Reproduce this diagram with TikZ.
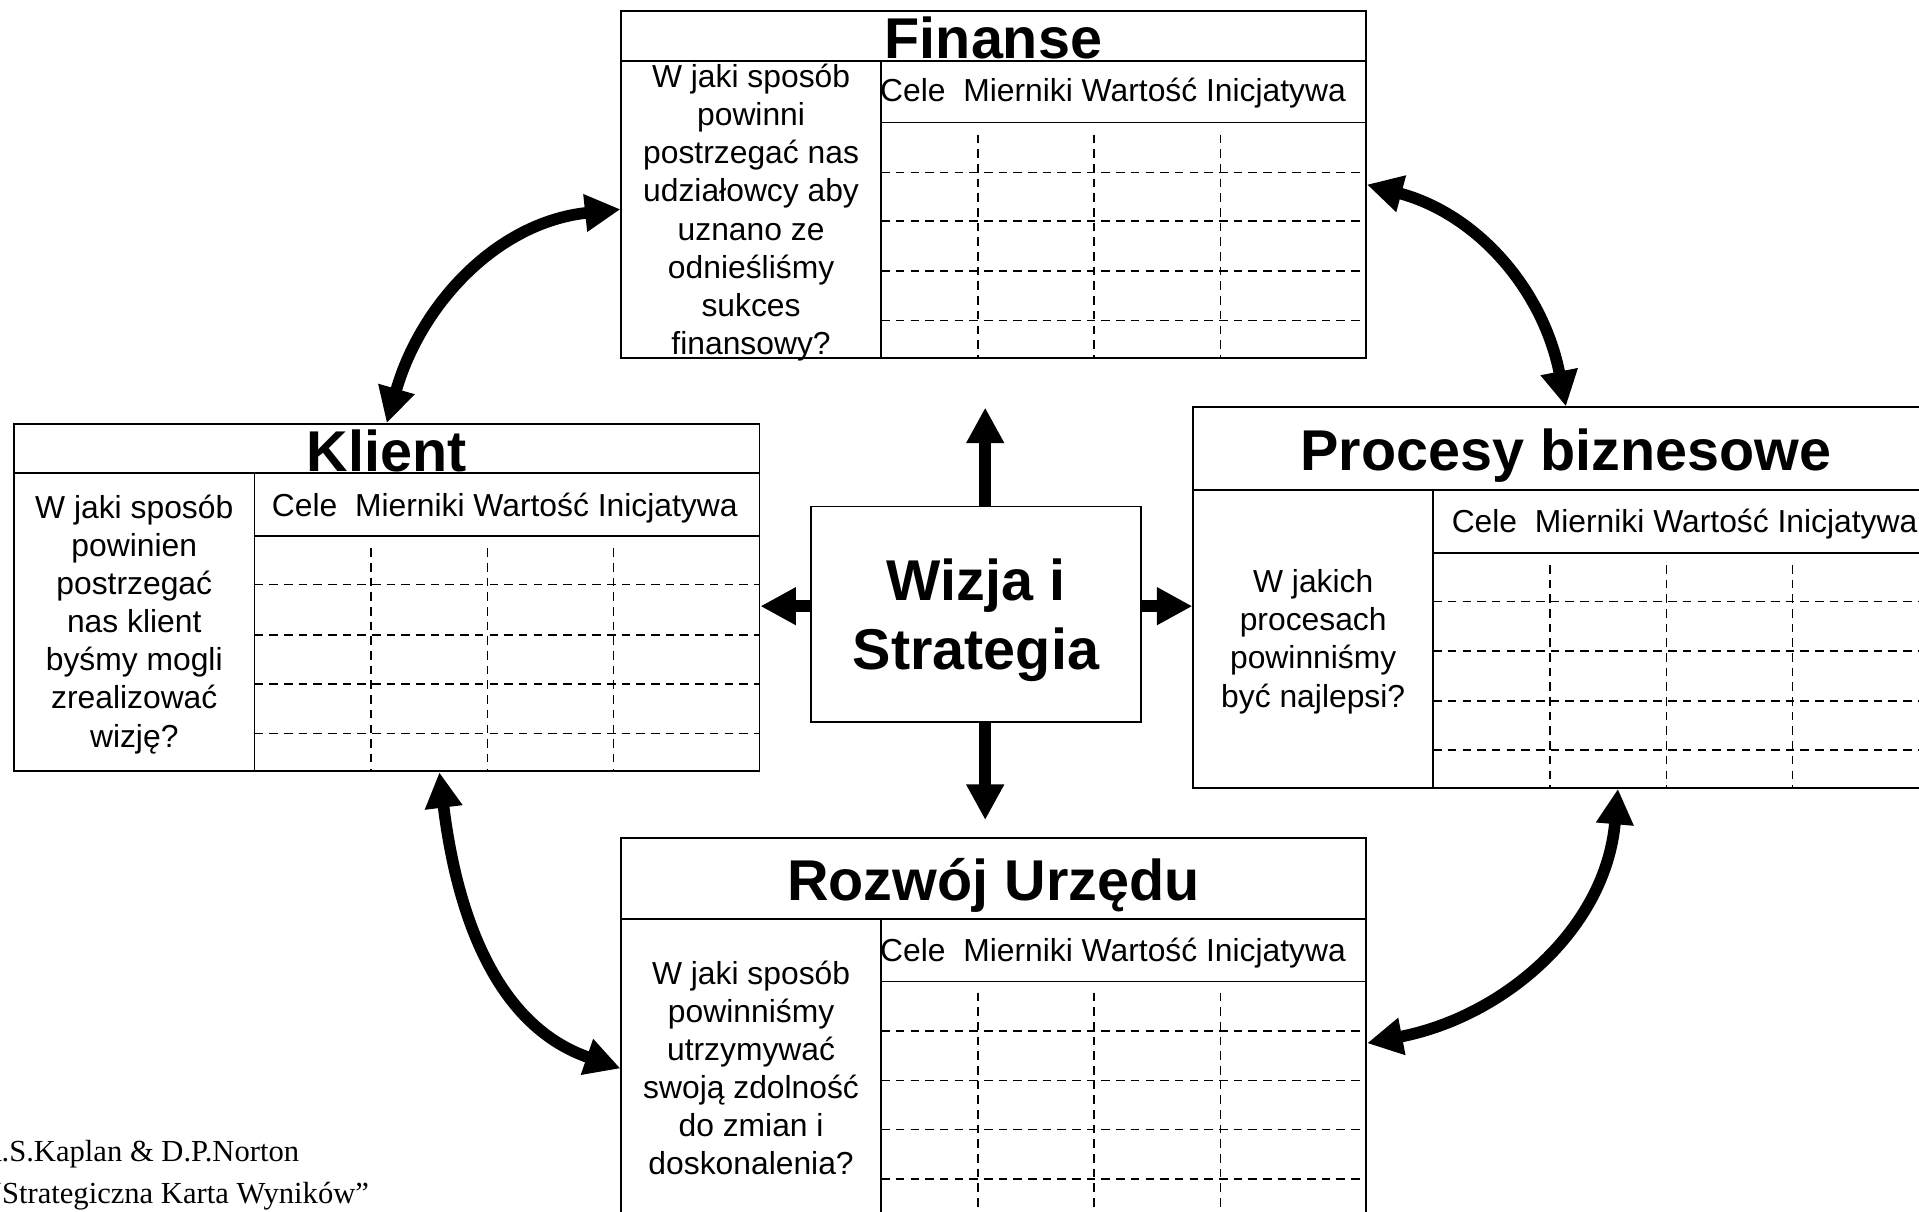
\documentclass[tikz,border=0pt]{standalone}
\usepackage{fontspec}
\setmainfont{Liberation Sans}
\newfontfamily\szeryf{Liberation Serif}
\usepackage{tikz}
\usetikzlibrary{arrows.meta,calc}
\tikzset{
	ramka/.style={draw,line width=1.4pt,inner sep=0pt},
	linia/.style={line width=1.4pt},
	kreski/.style={line width=1.1pt,dash pattern=on 7pt off 5pt},
	tytul/.style={anchor=base,inner sep=0pt,font=\fontsize{47}{56}\selectfont\bfseries},
	naglowek/.style={anchor=base west,inner sep=0pt,font=\fontsize{26}{31.5}\selectfont},
	pytanie/.style={align=center,inner sep=0pt,font=\fontsize{26}{31.2}\selectfont},
	strzalka/.style={line width=9.5pt,>={Triangle[width=29pt,length=29pt]}}
}

\begin{document}
\begin{tikzpicture}[x=1pt,y=1pt]
	\useasboundingbox (0,0) rectangle (1568,-990);
	\clip (0,0) rectangle (1568,-990);

	%Ramki perspektyw
	\node[ramka,minimum width=609,minimum height=283.5] (fin) at (811.7,-150.8) {};
	\node[ramka,minimum width=609.3,minimum height=283.6] (kli) at (316,-488.2) {};
	\node[ramka,minimum width=609,minimum height=310.8] (pro) at (1279.5,-488.2) {};
	\node[ramka,minimum width=609,minimum height=330] (roz) at (811.7,-849.9) {};
	\node[ramka,minimum width=269.7,minimum height=175.7] (wiz) at (797.5,-501.8) {};

	%Finanse
	\draw[linia] (507.2,-49.8) -- (1116.2,-49.8);
	\draw[linia] (720,-49.8) -- (720,-292.5);
	\draw[linia] (720,-100) -- (1116.2,-100);
	\foreach \y in {141,180.6,221.4,262} \draw[kreski] (720,-\y) -- (1116.2,-\y);
	\foreach \x in {799,894,997} \draw[kreski] (\x,-110) -- (\x,-292.5);
	\node[tytul] (finT) at (811.7,-47.6) {Finanse};
	\node[naglowek] (finN) at (719,-83) {Cele~ Mierniki Wartość Inicjatywa};
	\node[pytanie] (finP) at (613.7,-173.7) {W jaki sposób\\powinni\\postrzegać nas\\udziałowcy aby\\uznano ze\\odnieśliśmy\\sukces\\finansowy?};

	%Klient
	\draw[linia] (11.4,-386.7) -- (620.7,-386.7);
	\draw[linia] (208,-386.7) -- (208,-630);
	\draw[linia] (208,-438) -- (620.7,-438);
	\foreach \y in {477.7,518.8,559,599.2} \draw[kreski] (208,-\y) -- (620.7,-\y);
	\foreach \x in {303,398.4,501.2} \draw[kreski] (\x,-448) -- (\x,-630);
	\node[tytul] (kliT) at (316,-385.4) {Klient};
	\node[naglowek] (kliN) at (222,-422) {Cele~ Mierniki Wartość Inicjatywa};
	\node[pytanie] (kliP) at (109.7,-510) {W jaki sposób\\powinien\\postrzegać\\nas klient\\byśmy mogli\\zrealizować\\wizję?};

	%Procesy biznesowe
	\draw[linia] (975,-400.4) -- (1584,-400.4);
	\draw[linia] (1171,-400.4) -- (1171,-643.6);
	\draw[linia] (1171,-451.6) -- (1584,-451.6);
	\foreach \y in {491.6,531.9,572.8,612.8} \draw[kreski] (1171,-\y) -- (1584,-\y);
	\foreach \x in {1266.4,1361.8,1464.7} \draw[kreski] (\x,-461.6) -- (\x,-643.6);
	\node[tytul] (proT) at (1279.5,-384.6) {Procesy biznesowe};
	\node[naglowek] (proN) at (1186,-435.2) {Cele~ Mierniki Wartość Inicjatywa};
	\node[pytanie] (proP) at (1073,-524.3) {W jakich\\procesach\\powinniśmy\\być najlepsi?};

	%Rozwoj Urzedu
	\draw[linia] (507.2,-751) -- (1116.2,-751);
	\draw[linia] (720,-751) -- (720,-1015);
	\draw[linia] (720,-802) -- (1116.2,-802);
	\foreach \y in {842.4,883,923,963.4} \draw[kreski] (720,-\y) -- (1116.2,-\y);
	\foreach \x in {799,894,997} \draw[kreski] (\x,-811) -- (\x,-1015);
	\node[tytul] (rozT) at (811.7,-735.4) {Rozwój Urzędu};
	\node[naglowek] (rozN) at (719,-785.7) {Cele~ Mierniki Wartość Inicjatywa};
	\node[pytanie] (rozP) at (613.7,-872.6) {W jaki sposób\\powinniśmy\\utrzymywać\\swoją zdolność\\do zmian i\\doskonalenia?};

	%Wizja i Strategia
	\node[align=center,inner sep=0pt,font=\fontsize{47}{56.6}\selectfont\bfseries] (wizT) at (797.5,-507) {Wizja i\\Strategia};

	%Strzalki proste
	\coordinate (srodek) at (805,-495.3);
	\coordinate (gora) at (805,-333);
	\coordinate (dol) at (805,-670);
	\draw[strzalka,->] (wiz.north -| srodek) -- (gora);
	\draw[strzalka,->] (wiz.south -| srodek) -- (dol);
	\draw[strzalka,->] (wiz.west |- srodek) -- (kli.east |- srodek);
	\draw[strzalka,->] (wiz.east |- srodek) -- (pro.west |- srodek);

	%Strzalki luki
	\coordinate (finL) at (507,-171);
	\coordinate (kliD) at (359,-631);
	\coordinate (rozL) at (507,-873);
	\coordinate (proD) at (1322,-644.5);
	\coordinate (rozP) at (1117,-852.4);
	\draw[strzalka,<->] (kli.north) to[out=74,in=186] (finL);
	\draw[strzalka,<->] (fin.east) to[out=-15,in=101] (pro.north);
	\draw[strzalka,<->] (kliD) to[out=-83,in=161] (rozL);
	\draw[strzalka,<->] (proD) to[out=-95,in=11] (rozP);

	%Zrodlo
	\node[anchor=base west,inner sep=0pt,font=\szeryf\fontsize{25}{30}\selectfont] (zrodloA) at (-15.5,-949) {R.S.Kaplan \& D.P.Norton};
	\node[anchor=base west,inner sep=0pt,font=\szeryf\fontsize{25}{30}\selectfont] (zrodloB) at (-9.6,-983) {“Strategiczna Karta Wyników”};
\end{tikzpicture}
\end{document}
